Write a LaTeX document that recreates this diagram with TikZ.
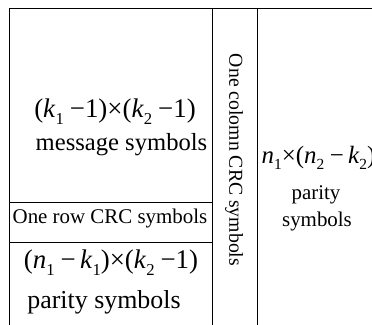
\documentclass[tikz,border=0pt]{standalone}
\usepackage{fontspec}
\usepackage{graphicx}
\setmainfont{Liberation Serif}
\newcommand{\lsub}[1]{\raisebox{-0.28em}{\scalebox{0.62}{#1}}}
\newcommand{\vr}[2]{\textit{#1}\lsub{#2}}
\newcommand{\gp}{\hspace{0.22em}}
\begin{document}
\begin{tikzpicture}[x=1bp,y=-1bp,
  ln/.style={line width=0.9pt,black},
  lbl/.style={inner sep=0pt,anchor=base},
  fsA/.style={font=\fontsize{27}{30}\selectfont},
  fsR/.style={font=\fontsize{25}{28}\selectfont},
  fsB/.style={font=\fontsize{24.7}{28}\selectfont},
  fsP/.style={font=\fontsize{26}{28}\selectfont},
  fsC/.style={font=\fontsize{21}{24}\selectfont},
  fsD/.style={font=\fontsize{19.8}{22}\selectfont},
  fsE/.style={font=\fontsize{21}{24}\selectfont}]
\useasboundingbox (0,0) rectangle (372,325);
% grid lines
\draw[ln] (9,325) -- (9,8) -- (372,8);
\draw[ln] (212,8) -- (212,325);
\draw[ln] (257,8) -- (257,325);
\draw[ln] (9,202) -- (212,202);
\draw[ln] (9,242) -- (212,242);
% left column
\node[lbl,fsA] (m1) at (115,117) {(\vr{k}{1}\gp−1)×(\vr{k}{2}\gp−1)};
\node[lbl,fsB] (m2) at (121.5,150) {message symbols};
\node[lbl,fsC] (r1) at (110,223) {One row CRC symbols};
\node[lbl,fsA] (p1) at (111,268) {(\vr{n}{1}\gp−\,\vr{k}{1})×(\vr{k}{2}\gp−1)};
\node[lbl,fsP] (p2) at (104,308) {parity symbols};
% CRC column
\node[inner sep=0pt,fsD,rotate=-90] (c1) at (234,160) {One colomn CRC symbols};
% right column
\node[inner sep=0pt,anchor=base west,fsR] (q1) at (261.5,163) {\vr{n}{1}×(\vr{n}{2}\gp−\,\vr{k}{2})};
\node[lbl,fsE] (q2) at (316,199) {parity};
\node[lbl,fsE] (q3) at (317,226) {symbols};
\end{tikzpicture}
\end{document}
